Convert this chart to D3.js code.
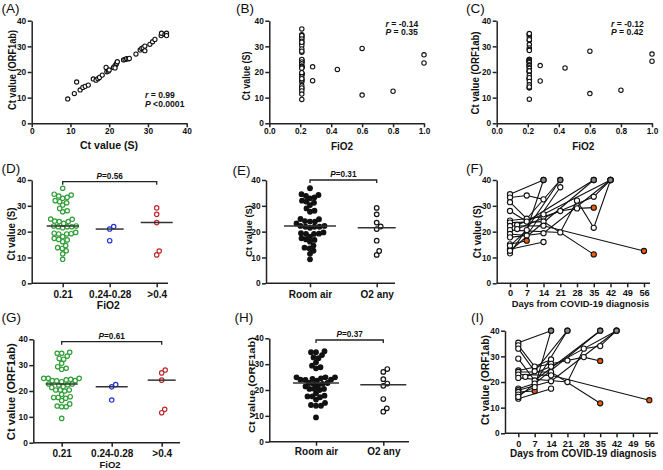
<!DOCTYPE html>
<html><head><meta charset="utf-8">
<script src="https://cdn.jsdelivr.net/npm/d3@7"></script>
<style>
body{margin:0;background:#fff;}
svg{display:block;}
</style></head><body>
<svg id="c" width="663" height="470"></svg>
<script>
// ---------------- DATA ----------------
const yTickValues = [0, 10, 20, 30, 40];
const aTickValues = [0, 10, 20, 30, 40];
const fio2TickValues = [0, 0.2, 0.4, 0.6, 0.8, 1.0];
const dayTickValues = [0, 7, 14, 21, 28, 35, 42, 49, 56];

// (A) paired Ct values, S vs ORF1ab
const aCtS   = [9.3, 11.0, 11.6, 12.5, 13.2, 13.8, 14.6, 15.9, 16.6, 17.1, 17.5, 18.2, 19.2, 19.4, 19.8, 20.0, 21.1, 21.5, 21.8, 21.9, 22.1, 21.5, 23.7, 24.1, 24.5, 24.9, 25.2, 26.9, 28.0, 28.4, 28.8, 29.2, 29.2, 30.5, 31.2, 31.8, 33.4, 33.5, 34.4, 34.8, 34.8];
const aCtORF = [9.5, 11.6, 16.1, 13.0, 14.0, 14.4, 14.9, 17.3, 16.8, 17.4, 17.9, 18.8, 21.8, 20.1, 20.4, 20.8, 21.8, 22.5, 23.0, 23.4, 24.0, 21.6, 24.7, 24.9, 25.2, 25.1, 25.3, 27.0, 28.6, 29.2, 29.5, 30.1, 28.3, 30.8, 31.8, 32.7, 34.2, 35.1, 34.7, 35.1, 34.2];

// Room air (FiO2 0.21) patients
const roomAirS = [36.8, 34.5, 33.8, 33.3, 34.2, 32.9, 32.0, 31.2, 30.3, 31.6, 29.0, 27.7, 28.1, 23.9, 24.8, 24.1, 24.9, 23.9, 23.2, 21.9, 22.2, 21.9, 22.2, 21.9, 21.5, 19.4, 19.1, 19.1, 19.2, 19.7, 18.1, 17.0, 16.1, 16.8, 17.4, 14.6, 13.5, 13.8, 12.6, 11.4, 9.3];
const roomAirORF = [34.6, 33.5, 34.6, 35.0, 32.3, 32.6, 30.7, 29.4, 28.8, 28.4, 24.3, 24.9, 24.9, 24.9, 24.5, 24.0, 23.9, 24.0, 23.6, 22.7, 22.3, 22.7, 22.4, 21.7, 21.4, 20.4, 20.4, 20.0, 20.4, 18.7, 17.5, 17.5, 17.2, 17.8, 16.3, 15.0, 13.9, 13.9, 14.2, 9.4];

// Patients on oxygen
const o2FiO2 = [0.28, 0.28, 0.44, 0.6, 0.6, 0.8, 1.0, 1.0];
const o2CtS   = [22.0, 16.6, 21.0, 29.2, 11.0, 12.5, 26.7, 23.5];
const o2CtORF = [22.5, 16.5, 21.6, 28.1, 11.6, 12.9, 27.0, 24.2];

const fio2Groups = ["0.21", "0.24-0.28", ">0.4"];
const lowO2S = [22.0, 21.0, 16.5];
const highO2S = [29.2, 26.7, 23.5, 11.0, 12.5];
const lowO2ORF = [22.5, 21.6, 16.5];
const highO2ORF = [28.1, 27.0, 24.2, 11.6, 12.9];
const airGroups = ["Room air", "O2 any"];

// Longitudinal Ct values: [day, Ct]; 40 = not detected
const followS = [
  [[0,34.5],[14,40]],
  [[0,33.2],[7,34],[14,32.5]],
  [[0,31.4],[7,25],[21,40]],
  [[0,28],[7,23.9],[35,40]],
  [[0,24.3],[14,25.8],[21,28],[28,29],[35,29.3]],
  [[0,23.5],[14,23.9],[35,11.2]],
  [[0,22.2],[14,22.3],[56,12.5]],
  [[0,20.6],[21,19.7],[28,32],[35,21.5],[42,40]],
  [[0,19.1],[7,18.5],[21,37.2]],
  [[0,17.8],[14,19.4],[42,40]],
  [[0,15.1],[7,16.5]],
  [[0,13.2],[14,16]],
  [[0,14.5],[7,20.6],[14,40]],
  [[0,11.6],[21,40]],
  [[3,22.6],[14,26.7],[42,40]],
  [[0,12.6],[35,40]],
  [[3,21],[35,33.5],[42,40]]
];
const lastPositiveS = [[7,16.5],[35,29.3],[35,11.2],[56,12.5]];

const followORF = [
  [[0,35.3],[14,40]],
  [[0,34.3],[7,26],[14,28.8]],
  [[0,33],[7,24.2],[21,40]],
  [[0,29.1],[7,20.6],[35,40]],
  [[0,24.5],[14,27.1],[21,28.4],[28,29.7],[35,28.2]],
  [[0,23.9],[14,23.9],[35,11.7]],
  [[0,22.9],[14,22.6],[56,12.9]],
  [[0,21.6],[21,20],[28,33],[35,34],[42,40]],
  [[0,17.4],[7,19.4],[21,40]],
  [[0,16.8],[14,20.3],[42,40]],
  [[0,16.1],[7,16.5]],
  [[0,13.5],[14,17.4]],
  [[0,15.1],[7,18],[14,40]],
  [[0,14.2],[35,40]],
  [[3,22],[14,26],[42,40]]
];
const lastPositiveORF = [[7,16.5],[35,28.2],[35,11.7],[56,12.9]];

// ---------------- DRAWING ----------------
const FONT = '"Liberation Sans", Arial, Helvetica, sans-serif';
const AX = '#222';
const svg = d3.select('#c');

function styleAxis(ax, fs) {
  ax.attr('font-family', null).attr('font-size', null);
  ax.select('.domain').attr('stroke', AX).attr('stroke-width', 1.5);
  ax.selectAll('.tick line').attr('stroke', AX).attr('stroke-width', 1.5);
  ax.selectAll('.tick text').attr('fill', '#111')
    .style('font-family', FONT).style('font-weight', 'bold').style('font-size', fs + 'px');
}
function yAxis(y, xPos, fs) {
  const ax = svg.append('g').attr('transform', `translate(${xPos},0)`)
    .call(d3.axisLeft(y).tickValues(yTickValues).tickSize(4).tickSizeOuter(0).tickPadding(1.5).tickFormat(d3.format('d')));
  styleAxis(ax, fs || 8.3);
}
function text(x, y, str, fs, opts = {}) {
  const t = svg.append('text').attr('x', x).attr('y', y)
    .style('font-family', FONT).style('font-size', fs + 'px')
    .style('font-weight', opts.weight || 'bold').attr('fill', '#111')
    .attr('text-anchor', opts.anchor || 'start');
  if (opts.len) t.attr('textLength', opts.len).attr('lengthAdjust', 'spacingAndGlyphs');
  return t.text(str);
}
function richText(x, y, italic, rest, fs, anchor) {
  const t = svg.append('text').attr('x', x).attr('y', y)
    .style('font-family', FONT).style('font-size', fs + 'px').style('font-weight', 'bold')
    .attr('fill', '#111').attr('text-anchor', anchor || 'start');
  t.append('tspan').style('font-style', 'italic').text(italic);
  t.append('tspan').text(rest);
}
function yLabel(str, cx, cy, fs, len) {
  svg.append('text').attr('transform', `translate(${cx + fs * 0.36},${cy}) rotate(-90)`)
    .style('font-family', FONT).style('font-size', fs + 'px').style('font-weight', 'bold')
    .attr('fill', '#111').attr('text-anchor', 'middle')
    .attr('textLength', len).attr('lengthAdjust', 'spacingAndGlyphs').text(str);
}
function panelTag(str, x, y) { text(x, y, str, 13.5, { weight: 'normal' }); }

function swarm(values, y, cx, diam) {
  const sorted = values.slice().sort((a, b) => a - b);
  const placed = [];
  sorted.forEach(v => {
    const py = y(v);
    for (let k = 0; k < 400; k++) {
      const off = k === 0 ? 0 : (k % 2 ? 1 : -1) * Math.ceil(k / 2) * 0.5;
      const px = cx + off;
      if (placed.every(p => (p.x - px) ** 2 + (p.y - py) ** 2 >= diam * diam)) { placed.push({ x: px, y: py, v }); break; }
    }
  });
  return placed;
}

// ---------- Scatter panels A, B, C ----------
function scatterPanel(o) {
  const x = d3.scaleLinear().domain(o.xDomain).range(o.xRange);
  const y = d3.scaleLinear().domain([0, 40]).range([123.3, 20.7]);
  const xa = svg.append('g').attr('transform', `translate(0,${y(0)})`)
    .call(d3.axisBottom(x).tickValues(o.xTicks).tickSize(4).tickSizeOuter(0).tickPadding(1).tickFormat(o.fmt));
  styleAxis(xa, 8.3);
  yAxis(y, x(o.xDomain[0]));
  svg.append('g').selectAll('circle').data(o.xs.map((d, i) => [d, o.ys[i]])).join('circle')
    .attr('cx', d => x(d[0])).attr('cy', d => y(d[1])).attr('r', o.r)
    .attr('fill', '#fff').attr('stroke', '#111').attr('stroke-width', 1.1);
  return { x, y };
}

scatterPanel({ xDomain: [0, 40], xRange: [31.7, 186.7], xTicks: aTickValues, fmt: d3.format('d'), xs: aCtS, ys: aCtORF, r: 2.1 });
panelTag('(A)', 1.5, 13);
yLabel('Ct value (ORF1ab)', 12.5, 70, 10, 80);
text(109, 149, 'Ct value  (S)', 10.5, { anchor: 'middle', len: 58 });
richText(145, 97.5, 'r', ' = 0.99', 8.6);
richText(145, 106.5, 'P', ' <0.0001', 8.6);

const bX = Array(roomAirS.length).fill(0.21).concat(o2FiO2);
scatterPanel({ xDomain: [0, 1], xRange: [269.3, 424], xTicks: fio2TickValues, fmt: d3.format('.1f'), xs: bX, ys: roomAirS.concat(o2CtS), r: 2.2 });
panelTag('(B)', 236, 13);
yLabel('Ct value  (S)', 246.5, 76, 10, 49);
text(342, 149.5, 'FiO2', 10, { anchor: 'middle' });
richText(385.5, 26.5, 'r', ' = -0.14', 8.6);
richText(385.5, 35, 'P', ' = 0.35', 8.6);

const cX = Array(roomAirORF.length).fill(0.21).concat(o2FiO2);
scatterPanel({ xDomain: [0, 1], xRange: [496.7, 652], xTicks: fio2TickValues, fmt: d3.format('.1f'), xs: cX, ys: roomAirORF.concat(o2CtORF), r: 2.2 });
panelTag('(C)', 466, 13);
yLabel('Ct value (ORF1ab)', 475, 73, 10, 83);
text(583.3, 149.5, 'FiO2', 10, { anchor: 'middle' });
richText(611, 26.5, 'r', ' = -0.12', 8.6);
richText(611, 35, 'P', ' = 0.42', 8.6);

// ---------- Dot plots D, E, G, H ----------
function dotPanel(o) {
  const y = d3.scaleLinear().domain([0, 40]).range(o.yRange);
  const x = d3.scalePoint().domain(o.cats).range(o.catRange);
  svg.append('line').attr('x1', o.yAxisX).attr('x2', o.xEnd).attr('y1', y(0)).attr('y2', y(0))
    .attr('stroke', AX).attr('stroke-width', 1.5);
  const xa = svg.append('g').attr('transform', `translate(0,${y(0)})`)
    .call(d3.axisBottom(x).tickSize(4).tickSizeOuter(0).tickPadding(o.pad));
  xa.select('.domain').remove();
  styleAxis(xa, 10);
  yAxis(y, o.yAxisX);
  o.groups.forEach((g, i) => {
    const cx = x(o.cats[i]);
    const pts = swarm(g.values, y, cx, o.diam);
    svg.append('g').selectAll('circle').data(pts).join('circle')
      .attr('cx', d => d.x).attr('cy', d => d.y).attr('r', o.r)
      .attr('fill', g.fill).attr('stroke', g.stroke).attr('stroke-width', 1.2);
    const m = d3.median(g.values);
    svg.append('line').attr('x1', cx - o.hw[i]).attr('x2', cx + o.hw[i]).attr('y1', y(m)).attr('y2', y(m))
      .attr('stroke', '#333').attr('stroke-width', 1.5);
  });
  // bracket
  const c0 = x(o.cats[0]), c1 = x(o.cats[o.cats.length - 1]);
  svg.append('path').attr('d', `M${c0},${o.brY + 3}V${o.brY}H${c1}V${o.brY + 3}`)
    .attr('fill', 'none').attr('stroke', '#222').attr('stroke-width', 1.3);
  richText((c0 + c1) / 2 + o.pShift, o.brY - 3, 'P', o.pText, 8.2, 'middle');
  return { x, y };
}

const GREEN = '#2f9e37', BLUE = '#2233d6', RED = '#c2282d';

dotPanel({ yRange: [283.3, 180], cats: fio2Groups, catRange: [62.7, 156.7], yAxisX: 31.7, xEnd: 168, pad: 3.3,
  groups: [{ values: roomAirS, fill: '#fff', stroke: GREEN }, { values: lowO2S, fill: '#fff', stroke: BLUE }, { values: highO2S, fill: '#fff', stroke: RED }],
  r: 2.2, diam: 4.5, hw: [16, 14, 16], brY: 181.7, pText: '=0.56', pShift: 0 });
panelTag('(D)', 1.5, 172.5);
yLabel('Ct value  (S)', 11.5, 234, 10, 53);
text(108.3, 309, 'FiO2', 10.3, { anchor: 'middle' });

dotPanel({ yRange: [283.3, 180], cats: airGroups, catRange: [310, 376.7], yAxisX: 266, xEnd: 395, pad: 3.3,
  groups: [{ values: roomAirS, fill: '#111', stroke: '#111' }, { values: lowO2S.concat(highO2S), fill: '#fff', stroke: '#111' }],
  r: 2.3, diam: 4.6, hw: [26, 19], brY: 180, pText: '=0.31', pShift: 0 });
panelTag('(E)', 232.5, 175);
yLabel('Ct value (S)', 248.5, 231, 9.5, 52);

dotPanel({ yRange: [442.7, 339.3], cats: fio2Groups, catRange: [61.7, 161.7], yAxisX: 33.3, xEnd: 180, pad: 2.9,
  groups: [{ values: roomAirORF, fill: '#fff', stroke: GREEN }, { values: lowO2ORF, fill: '#fff', stroke: BLUE }, { values: highO2ORF, fill: '#fff', stroke: RED }],
  r: 2.2, diam: 4.5, hw: [16, 16, 14], brY: 341.7, pText: '=0.61', pShift: 0 });
panelTag('(G)', 1.5, 322);
yLabel('Ct value (ORF1ab)', 11.5, 391.7, 11, 97);
text(110, 468, 'FiO2', 9.5, { anchor: 'middle' });

dotPanel({ yRange: [441.7, 338.3], cats: airGroups, catRange: [316, 383.3], yAxisX: 269.3, xEnd: 409, pad: 2.2,
  groups: [{ values: roomAirORF, fill: '#111', stroke: '#111' }, { values: lowO2ORF.concat(highO2ORF), fill: '#fff', stroke: '#111' }],
  r: 2.3, diam: 4.6, hw: [23, 23], brY: 340, pText: '=0.37', pShift: 0 });
panelTag('(H)', 234.5, 322);
yLabel('Ct value (ORF1ab)', 251.5, 385, 9.5, 96);

// ---------- Longitudinal panels F, I ----------
function followPanel(o) {
  const x = d3.scaleLinear().domain([0, 56]).range(o.xRange);
  const y = d3.scaleLinear().domain([0, 40]).range(o.yRange);
  svg.append('line').attr('x1', o.yAxisX).attr('x2', o.xEnd).attr('y1', y(0)).attr('y2', y(0))
    .attr('stroke', AX).attr('stroke-width', 1.5);
  const xa = svg.append('g').attr('transform', `translate(0,${y(0)})`)
    .call(d3.axisBottom(x).tickValues(dayTickValues).tickSize(4).tickSizeOuter(0).tickPadding(o.pad));
  xa.select('.domain').remove();
  styleAxis(xa, 9.2);
  yAxis(y, o.yAxisX);
  const line = d3.line().x(d => x(d[0])).y(d => y(d[1]));
  svg.append('g').selectAll('path').data(o.series).join('path')
    .attr('d', line).attr('fill', 'none').attr('stroke', '#111').attr('stroke-width', 1.1);
  const isHi = d => o.highlight.some(h => h[0] === d[0] && h[1] === d[1]);
  const pts = o.series.flat();
  svg.append('g').selectAll('circle').data(pts).join('circle')
    .attr('cx', d => x(d[0])).attr('cy', d => y(d[1])).attr('r', 2.6)
    .attr('fill', d => d[1] >= 40 ? '#8a8a8a' : (isHi(d) ? '#ef5a0c' : '#fff'))
    .attr('stroke', '#111').attr('stroke-width', 1.1);
}

followPanel({ xRange: [510, 644], yRange: [283.3, 180], yAxisX: 496.7, xEnd: 650, pad: 1.8, series: followS, highlight: lastPositiveS });
panelTag('(F)', 466, 173);
yLabel('Ct value (S)', 477.5, 231.7, 10, 53);
text(580.5, 306.7, 'Days from COVID-19 diagnosis', 9.5, { anchor: 'middle', len: 137.6 });

followPanel({ xRange: [518.3, 649.3], yRange: [433.3, 330.7], yAxisX: 505, xEnd: 658, pad: 3.2, series: followORF, highlight: lastPositiveORF });
panelTag('(I)', 471, 322);
yLabel('Ct value (ORF1ab)', 485.5, 380, 10.5, 90);
text(583.3, 456.7, 'Days from COVID-19 diagnosis', 10, { anchor: 'middle', len: 146.7 });
</script>
</body></html>
